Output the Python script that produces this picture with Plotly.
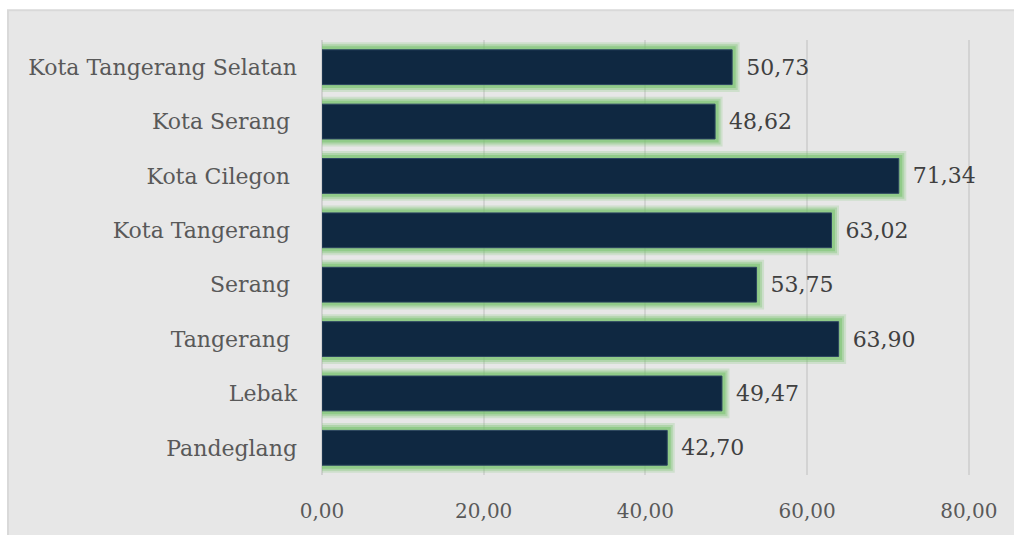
import plotly.graph_objects as go

categories = ["Pandeglang", "Lebak", "Tangerang\u00a0", "Serang\u00a0", "Kota Tangerang\u00a0",
              "Kota Cilegon\u00a0", "Kota Serang\u00a0", "Kota Tangerang Selatan"]
values = [42.70, 49.47, 63.90, 53.75, 63.02, 71.34, 48.62, 50.73]
tick_vals = [0, 20, 40, 60, 80]

FONT = "DejaVu Serif"
W, H = 1014, 535
L, R, T, B = 322, 44, 40, 56
pw, ph = W - L - R, H - T - B

fig = go.Figure()
# soft green glow layers (outer -> inner)
for width, alpha in [(15, 0.22), (11, 0.35), (7, 0.55)]:
    fig.add_trace(go.Bar(
        x=values, y=categories, orientation="h",
        marker=dict(color="rgba(0,0,0,0)",
                    line=dict(color=f"rgba(120,195,110,{alpha})", width=width)),
        hoverinfo="skip", showlegend=False,
    ))
# dark bar layer with value labels
fig.add_trace(go.Bar(
    x=values, y=categories, orientation="h",
    marker=dict(color="#0f2841", line=dict(color="#2c4560", width=1)),
    texttemplate="\u2002%{x:.2f}", textposition="outside",
    textfont=dict(family=FONT, size=22, color="#404040"),
    cliponaxis=False, showlegend=False,
))

fig.update_layout(
    width=W, height=H,
    margin=dict(l=L, r=R, t=T, b=B),
    barmode="overlay", bargap=0.36,
    separators=",.",
    paper_bgcolor="white", plot_bgcolor="rgba(0,0,0,0)",
    font=dict(family=FONT, color="#595959"),
    xaxis=dict(range=[0, 80.15], tickvals=tick_vals, tickformat=".2f",
               showgrid=True, gridcolor="#d3d3d3", gridwidth=1.5,
               zeroline=True, zerolinecolor="#d0d0d0", zerolinewidth=1.5,
               showline=False, ticks="", ticklabelstandoff=22,
               tickfont=dict(family=FONT, size=20, color="#595959")),
    yaxis=dict(showgrid=False, showline=False, ticks="", ticklabelstandoff=24,
               tickfont=dict(family=FONT, size=22, color="#595959")),
    shapes=[dict(type="rect", xref="paper", yref="paper",
                 x0=(8 - L) / pw, x1=(W - L + 30) / pw,
                 y0=-(B + 30) / ph, y1=(H - B - 10) / ph,
                 fillcolor="#e7e7e7", line=dict(color="#d9d9d9", width=2),
                 layer="below")],
)

fig.write_html("out.html", config={"displayModeBar": False},
               post_script="document.body.style.margin='0';document.body.style.overflow='hidden';")
